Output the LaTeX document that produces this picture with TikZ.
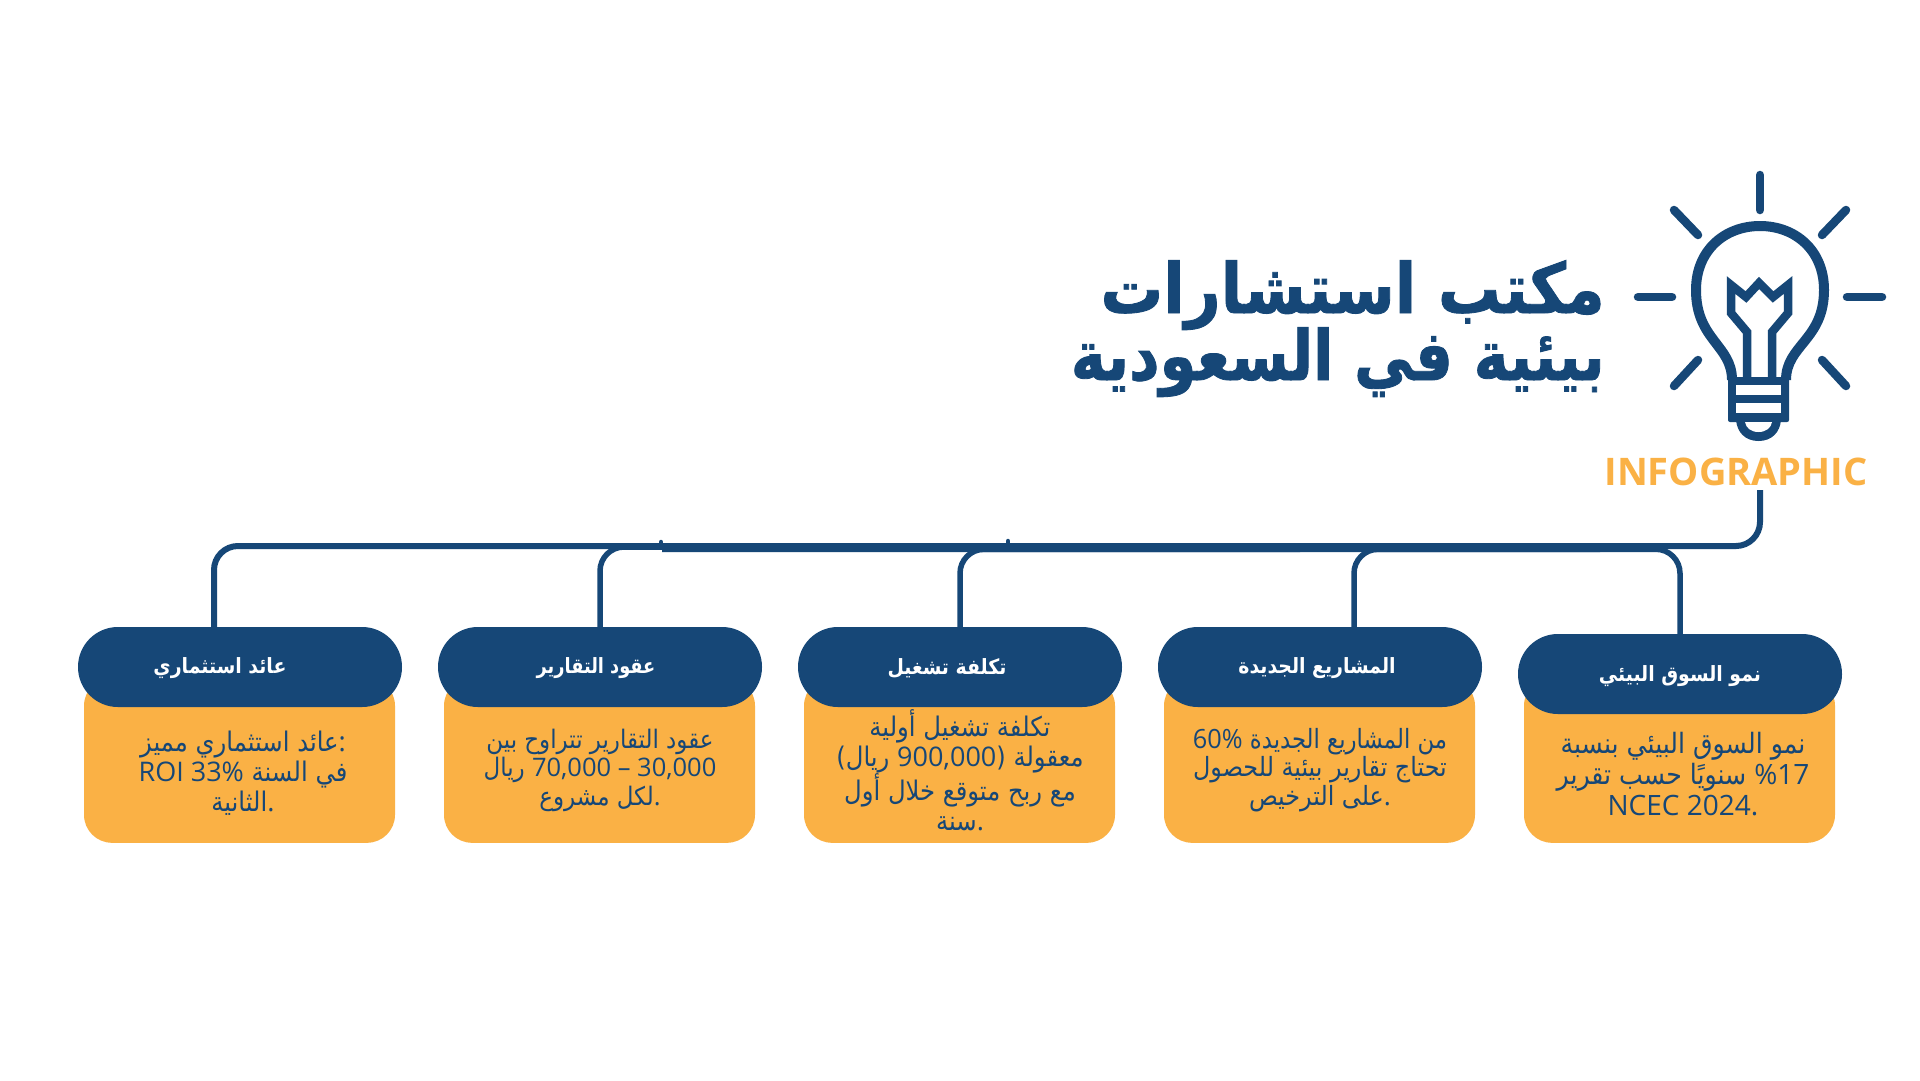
\documentclass[tikz,border=0pt]{standalone}
\usepackage{fontspec}
\setmainfont{Open Sans}
\TeXXeTstate=1
\newfontfamily\arfont[Script=Arabic]{DejaVu Sans Condensed}
\newfontfamily\artitle[Script=Arabic,FakeBold=1.2]{DejaVu Sans Condensed Bold}
\newfontfamily\latf{Open Sans}
\definecolor{navy}{HTML}{164777}
\definecolor{amber}{HTML}{FAB145}
\newcommand{\ar}[1]{\beginR #1\endR}
\newcommand{\lt}[1]{\beginL{\latf #1}\endL}
\tikzset{
  conn/.style={draw=navy,line width=5.5pt,rounded corners=24pt},
  ray/.style={draw=navy,line width=8.5pt,line cap=round},
  bulbline/.style={draw=navy,line width=10pt,line join=round},
  body/.style={fill=amber,rounded corners=28pt,minimum width=311pt,minimum height=165pt,inner sep=0pt},
  pill/.style={fill=navy,rounded corners=39.9pt,minimum width=324pt,minimum height=80pt,inner sep=0pt},
  headtext/.style={text=white,font=\arfont\bfseries\fontsize{21}{26}\selectfont,inner sep=0pt},
  bodytext/.style 2 args={text=navy,font=\arfont\fontsize{#1}{#2}\selectfont,align=center,inner sep=0pt,anchor=center},
  titletext/.style={anchor=base east,inner sep=0pt,text=navy,font=\artitle\fontsize{69.5}{67}\selectfont},
}
\begin{document}
\begin{tikzpicture}[x=1pt,y=-1pt]
\useasboundingbox (0,0) rectangle (1920,1080);
\fill[white] (0,0) rectangle (1920,1080);
% bulb rays
\draw[ray] (1760,175) -- (1760,210);
\draw[ray] (1674,210) -- (1698,235);
\draw[ray] (1846,210) -- (1822,235);
\draw[ray] (1638,297) -- (1672,297);
\draw[ray] (1847,297) -- (1882,297);
\draw[ray] (1698,360) -- (1674,386);
\draw[ray] (1822,360) -- (1846,386);
% bulb
\draw[bulbline] (1732,380) .. controls (1732,345) and (1696,340) .. (1696,290)
  .. controls (1696,250) and (1725,226) .. (1760,226)
  .. controls (1795,226) and (1824,250) .. (1824,290)
  .. controls (1824,340) and (1786,345) .. (1786,380);
% filament
\draw[draw=navy,line width=8.5pt,line join=miter] (1747,378) -- (1747,332) -- (1731,313) -- (1731,285) -- (1746,297) -- (1759,283) -- (1773,297) -- (1788,285) -- (1788,313) -- (1772,332) -- (1772,378);
% base
\fill[navy,rounded corners=2pt] (1728,377) rectangle (1789,422);
\fill[white] (1736,385) rectangle (1781,395);
\fill[white] (1736,403) rectangle (1781,413);
\fill[navy] (1736,420) -- (1781,420) .. controls (1780,432) and (1772,441) .. (1758.5,441) .. controls (1745,441) and (1737,432) .. (1736,420) -- cycle;
\fill[white] (1745,422) -- (1772,422) .. controls (1771,428) and (1766,432) .. (1758.5,432) .. controls (1751,432) and (1746,428) .. (1745,422) -- cycle;
% title
\node[titletext] (title1) at (1605,313) {\ar{مكتب استشارات}};
\node[titletext] (title2) at (1605,380) {\scalebox{0.95}[1]{\ar{بيئية في السعودية}}};
\node[anchor=base,inner sep=0pt,text=amber,font=\bfseries\fontsize{38}{40}\selectfont] (info) at (1736,485) {INFOGRAPHIC};
% boxes
\node[body,anchor=south] (b1) at (239.5,843) {};
\node[body,anchor=south] (b2) at (599.5,843) {};
\node[body,anchor=south] (b3) at (959.5,843) {};
\node[body,anchor=south] (b4) at (1319.5,843) {};
\node[body,anchor=south] (b5) at (1679.5,843) {};
\node[pill] (p1) at (240,667) {};
\node[pill] (p2) at (600,667) {};
\node[pill] (p3) at (960,667) {};
\node[pill] (p4) at (1320,667) {};
\node[pill] (p5) at (1680,674) {};
\node[headtext] (h1) at (220,668) {\ar{عائد استثماري}};
\node[headtext] (h2) at (596,668) {\scalebox{0.94}[1]{\ar{عقود التقارير}}};
\node[headtext] (h3) at (947,668) {\ar{تكلفة تشغيل}};
\node[headtext] (h4) at (1317,668) {\ar{المشاريع الجديدة}};
\node[headtext] (h5) at (1680,676) {\ar{نمو السوق البيئي}};
\node[bodytext={27}{30}] (t1) at (243,773) {\ar{عائد استثماري مميز}{\latf :}\\\ar{في السنة \lt{ROI 33\%}}\\\ar{الثانية}{\latf .}};
\node[bodytext={25.5}{28.5}] (t2) at (600,770) {\ar{عقود التقارير تتراوح بين}\\\ar{\lt{70,000 – 30,000} ريال}\\\ar{لكل مشروع}{\latf .}};
\node[bodytext={27}{30}] (t3) at (960,770) {\ar{تكلفة تشغيل أولية}\\\ar{معقولة (\lt{900,000} ريال)}\\\ar{مع ربح متوقع خلال أول}\\\ar{سنة}{\latf .}};
\node[bodytext={26.5}{28.5}] (t4) at (1320,770) {\scalebox{0.955}[1]{\ar{من المشاريع الجديدة \lt{60\%}}}\\\ar{تحتاج تقارير بيئية للحصول}\\\ar{على الترخيص}{\latf .}};
\node[bodytext={28}{31}] (t5) at (1683,774) {\ar{نمو السوق البيئي بنسبة}\\\ar{\lt{\%17} سنويًا حسب تقرير}\\{\latf NCEC 2024.}};
% connectors
\coordinate (trunk) at (1760,490);
\coordinate (bus1) at (214,546);
\coordinate (bus2) at (600,547);
\coordinate (bus3) at (960,549.3);
\coordinate (bus4) at (1354,549.3);
\coordinate (bus5) at (1680,549.3);
\coordinate (c1) at (214,627);
\coordinate (c2) at (600,627);
\coordinate (c3) at (960,627);
\coordinate (c4) at (1354,627);
\coordinate (c5) at (1680,634);
\coordinate (jn) at (662,549.3);
\coordinate (stubA) at (661,542);
\coordinate (stubB) at (1008,541);
\draw[conn,line width=6pt] (trunk) |- (bus1) -- (c1);
\draw[conn] (jn) -- (bus5) -- (c5);
\draw[conn] (1300,549.3) -- (bus3) -- (c3);
\draw[conn] (1600,549.3) -- (bus4) -- (c4);
\draw[conn] (662,547) -- (bus2) -- (c2);
\draw[navy,line width=4.5pt,line cap=round] (stubA) -- (661,546);
\draw[navy,line width=4.5pt,line cap=round] (stubB) -- (1008,545);
\end{tikzpicture}
\end{document}
